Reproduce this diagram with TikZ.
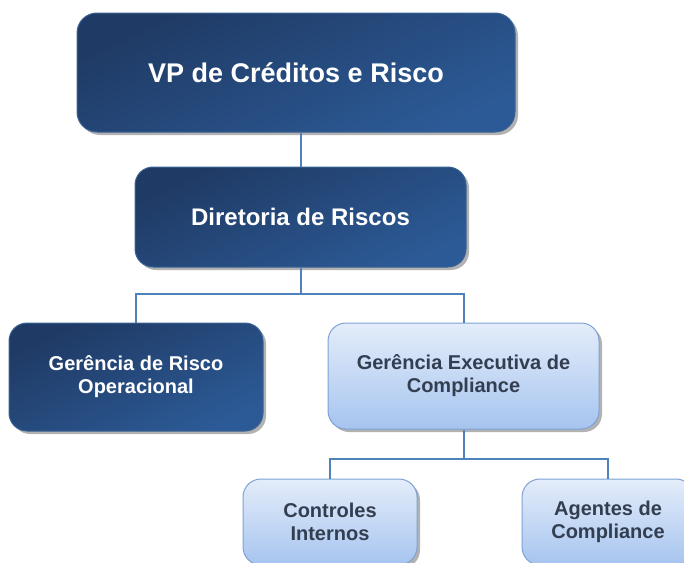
\documentclass[tikz,border=0pt]{standalone}
\usepackage{fontspec}
\setmainfont{Liberation Sans}
\usetikzlibrary{shadows}
\definecolor{darkTop}{HTML}{1F3A64}
\definecolor{darkBot}{HTML}{2C5A96}
\definecolor{darkBorder}{HTML}{3A6394}
\definecolor{lightTop}{HTML}{E4EDFA}
\definecolor{lightBot}{HTML}{A6C4EF}
\definecolor{lightBorder}{HTML}{7EA2D4}
\definecolor{lightText}{HTML}{333F50}
\definecolor{connColor}{HTML}{4F81BD}
\begin{document}
\begin{tikzpicture}[x=1pt,y=-1pt,
  box/.style={rounded corners=18pt, line width=1pt, align=center, inner sep=0pt,
    drop shadow={shadow xshift=3pt,shadow yshift=-3pt,opacity=0.3,fill=black}},
  darkbox/.style={box, draw=darkBorder, top color=darkTop, bottom color=darkBot,
    shading angle=25, text=white},
  lightbox/.style={box, draw=lightBorder, top color=lightTop, bottom color=lightBot,
    text=lightText},
  fsmall/.style={font=\bfseries\fontsize{20}{23}\selectfont},
  conn/.style={draw=connColor, line width=2pt}]
\useasboundingbox (0,0) rectangle (684,562);
\clip (0,0) rectangle (684,562);

\node[darkbox, rounded corners=20pt, minimum width=438pt, minimum height=119pt,
  font=\bfseries\fontsize{27}{32}\selectfont] (vp) at (296,72.5) {VP de Créditos e Risco};
\node[darkbox, minimum width=331pt, minimum height=100pt,
  font=\bfseries\fontsize{24}{28}\selectfont] (dir) at (300.5,217) {Diretoria de Riscos};
\node[darkbox, fsmall, minimum width=254pt, minimum height=108pt] (op) at (136,377)
  {Gerência de Risco\\Operacional};
\node[lightbox, fsmall, minimum width=271pt, minimum height=106pt] (exec) at (463.5,376)
  {Gerência Executiva de\\Compliance};
\node[lightbox, fsmall, minimum width=174pt, minimum height=86pt] (ci) at (330,522)
  {Controles\\Internos};
\node[lightbox, fsmall, minimum width=172pt, minimum height=86pt] (ag) at (608,522)
  {Agentes de\\Compliance};

\coordinate (b1) at (0,294);
\coordinate (b2) at (0,459);
\draw[conn] (dir.north) -- (dir.north |- vp.south);
\draw[conn] (dir.south) -- (dir.south |- b1);
\draw[conn] (op.north) -- (op.north |- b1) -- (exec.north |- b1) -- (exec.north);
\draw[conn] (exec.south) -- (exec.south |- b2);
\draw[conn] (ci.north) -- (ci.north |- b2) -- (ag.north |- b2) -- (ag.north);
\end{tikzpicture}
\end{document}
